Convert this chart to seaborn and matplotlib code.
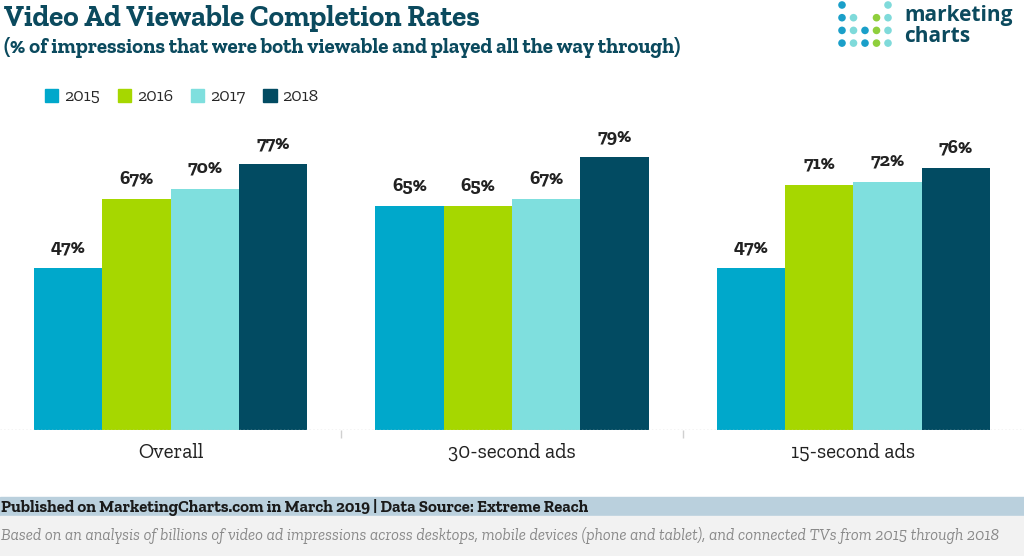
import pandas as pd
import seaborn as sns
import matplotlib.pyplot as plt
import matplotlib.font_manager as fm
from matplotlib.patches import Rectangle, Ellipse

categories = ['Overall', '30-second ads', '15-second ads']
years = ['2015', '2016', '2017', '2018']
rates_2015 = [47, 65, 47]
rates_2016 = [67, 65, 71]
rates_2017 = [70, 67, 72]
rates_2018 = [77, 79, 76]

colors = ['#00a8cb', '#a6d700', '#7fdfde', '#024b62']

installed = {f.name for f in fm.fontManager.ttflist}


def pick(*names):
    """First installed family from the list, with DejaVu as fallback."""
    for n in names:
        if n in installed:
            return [n, 'DejaVu Sans']
    return ['DejaVu Serif']


TITLE_FONT = pick('Roboto Slab', 'Zilla Slab', 'Bitter')
SLAB = pick('Zilla Slab', 'Roboto Slab', 'Bitter')
LOGO_FONT = pick('Open Sans', 'Lato')


def build_frame():
    """Long-format table for seaborn."""
    rows = []
    for year, vals in zip(years, [rates_2015, rates_2016, rates_2017, rates_2018]):
        for cat, v in zip(categories, vals):
            rows.append({'category': cat, 'year': year, 'rate': v})
    return pd.DataFrame(rows)


df = build_frame()

sns.set_theme(style='white')
plt.rcParams['font.family'] = SLAB

fig = plt.figure(figsize=(10.24, 5.56), dpi=100)
ax = fig.add_axes([0, 1 - 430 / 556, 1, 310.5 / 556])

sns.barplot(data=df, x='category', y='rate', hue='year', order=categories,
            hue_order=years, palette=colors, width=0.8, saturation=1,
            errorbar=None, linewidth=0, ax=ax)

for cont in ax.containers:
    ax.bar_label(cont, labels=[f'{v:.0f}%' for v in cont.datavalues],
                 padding=8, fontsize=14, fontweight='heavy', color='#222222',
                 family=TITLE_FONT)

ax.set_xlim(-0.5, 2.5)
ax.set_ylim(0, 90)
ax.set_xlabel('')
ax.set_ylabel('')
ax.set_yticks([])
for s in ax.spines.values():
    s.set_visible(False)
ax.axhline(0, color='#c8c8c8', lw=1, ls=':')
ax.set_xticks([0.5, 1.5], minor=True)
ax.tick_params(axis='x', which='minor', length=6, color='#d0d0d0', width=1,
               direction='out', bottom=True)
ax.tick_params(axis='x', which='major', length=0, pad=9, labelsize=15,
               labelcolor='#222222')
ax.legend_.remove()

# legend
handles = [Rectangle((0, 0), 1, 1, color=c) for c in colors]
fig.legend(handles, years, loc='center left', bbox_to_anchor=(0.028, 1 - 97 / 556),
           ncol=4, frameon=False, handlelength=0.75, handleheight=0.75,
           handletextpad=0.3, columnspacing=1.0,
           prop={'family': SLAB, 'size': 13})

# titles
fig.text(0.004, 1 - 18 / 556, 'Video Ad Viewable Completion Rates', fontsize=21,
         fontweight='bold', color='#0b4a5e', va='center', family=TITLE_FONT)
fig.text(0.004, 1 - 48 / 556,
         '(% of impressions that were both viewable and played all the way through)',
         fontsize=15, fontweight='bold', color='#0b4a5e', va='center', family=SLAB)

# logo
dot_rows = {0: [(0, '#1a9fc9'), (4, '#7fdada')],
            1: [(0, '#1a9fc9'), (1, '#7fdada'), (3, '#8fcf3c'), (4, '#7fdada')],
            2: [(0, '#1a9fc9'), (1, '#7fdada'), (2, '#1a9fc9'), (3, '#8fcf3c'), (4, '#7fdada')],
            3: [(0, '#1a9fc9'), (1, '#7fdada'), (2, '#1a9fc9'), (3, '#8fcf3c'), (4, '#7fdada')]}
for r, dots in dot_rows.items():
    for c, col in dots:
        x = (842 + c * 11.5) / 1024
        y = 1 - (5 + r * 12.7) / 556
        fig.patches.append(Ellipse((x, y), 7.6 / 1024, 7.6 / 556, transform=fig.transFigure,
                                   color=col, ec='none'))
fig.text(904 / 1024, 1 - 15 / 556, 'marketing', fontsize=15, fontweight='bold',
         color='#0b4a5e', va='center', family=LOGO_FONT)
fig.text(904 / 1024, 1 - 37 / 556, 'charts', fontsize=15, fontweight='bold',
         color='#0b4a5e', va='center', family=LOGO_FONT)

# footer bands
fig.patches.append(Rectangle((0, 1 - 516 / 556), 1, 19 / 556, transform=fig.transFigure,
                             color='#bad0dd', zorder=0))
fig.patches.append(Rectangle((0, 0), 1, 40 / 556, transform=fig.transFigure,
                             color='#f2f2f2', zorder=0))
fig.text(0.001, 1 - 507 / 556,
         'Published on MarketingCharts.com in March 2019 | Data Source: Extreme Reach',
         fontsize=12, fontweight='bold', color='#1a1a1a', va='center', family=SLAB)
fig.text(0.001, 1 - 536 / 556,
         'Based on an analysis of billions of video ad impressions across desktops, mobile devices '
         '(phone and tablet), and connected TVs from 2015 through 2018',
         fontsize=11.8, style='italic', color='#8a8a8a', va='center', family=SLAB)

fig.savefig('out.png', dpi=100)
